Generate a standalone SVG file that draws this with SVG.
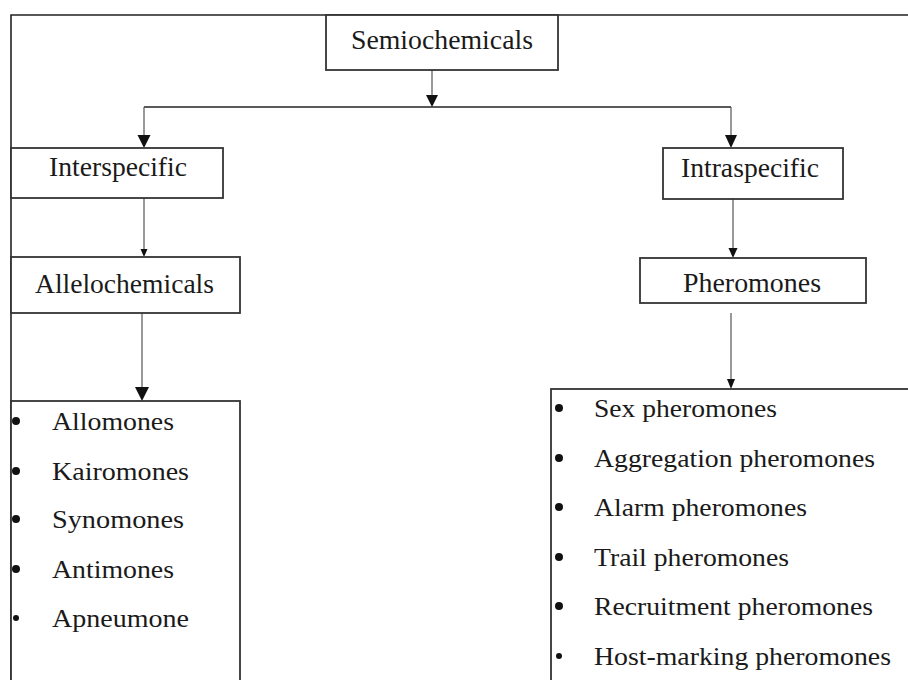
<svg xmlns="http://www.w3.org/2000/svg" width="908" height="680" viewBox="0 0 908 680">
<style>
  text { font-family: "Liberation Serif", "Times New Roman", serif; fill: #1a1a1a; }
  .h { font-size: 27px; text-anchor: middle; }
  .li { font-size: 26px; }
  .box { fill: #fff; stroke: #333; stroke-width: 1.8; }
  .frame { fill: none; stroke: #222; stroke-width: 1.6; }
  .conn { fill: none; stroke: #555; stroke-width: 1.2; }
  .bus { fill: none; stroke: #222; stroke-width: 1.6; }
  .head { fill: #111; }
  .bullet { fill: #111; }
</style>
<rect x="0" y="0" width="908" height="680" fill="#fff"/>
<g id="frame">
  <path class="frame" d="M11,680 V15 H908"/>
</g>
<g id="connectors">
  <path class="conn" d="M432,70 V96"/>
  <path class="head" d="M426,95 L438,95 L432,107 Z"/>
  <path class="bus" d="M144,107 H731"/>
  <path class="conn" d="M144,107 V136"/>
  <path class="head" d="M137.5,135 L150.5,135 L144,148 Z"/>
  <path class="conn" d="M731,107 V136"/>
  <path class="head" d="M725,135 L737,135 L731,148 Z"/>
  <path class="conn" d="M144,198 V250"/>
  <path class="head" d="M140.5,249 L147.5,249 L144,257 Z"/>
  <path class="conn" d="M733,199 V250"/>
  <path class="head" d="M728.5,248 L737.5,248 L733,258 Z"/>
  <path class="conn" d="M142,313 V388"/>
  <path class="head" d="M135,387 L149,387 L142,401 Z"/>
  <path class="conn" d="M731,313 V380"/>
  <path class="head" d="M727,379 L735,379 L731,389 Z"/>
</g>
<g id="semiochemicals">
  <rect class="box" x="326" y="15" width="232" height="55"/>
  <text class="h" x="442" y="49" textLength="182" lengthAdjust="spacingAndGlyphs">Semiochemicals</text>
</g>
<g id="interspecific">
  <rect class="box" x="11" y="148" width="212" height="50"/>
  <text class="h" x="118" y="176" textLength="138" lengthAdjust="spacingAndGlyphs">Interspecific</text>
</g>
<g id="intraspecific">
  <rect class="box" x="663" y="148" width="180" height="51"/>
  <text class="h" x="750" y="177" textLength="138" lengthAdjust="spacingAndGlyphs">Intraspecific</text>
</g>
<g id="allelochemicals">
  <rect class="box" x="11" y="257" width="229" height="56"/>
  <text class="h" x="124.5" y="293" textLength="179" lengthAdjust="spacingAndGlyphs">Allelochemicals</text>
</g>
<g id="pheromones">
  <rect class="box" x="640" y="258" width="226" height="45"/>
  <text class="h" x="752" y="292" textLength="138" lengthAdjust="spacingAndGlyphs">Pheromones</text>
</g>
<g id="allelochemicals-list">
  <rect class="box" x="11" y="401" width="229" height="290"/>
  <circle class="bullet" cx="16" cy="421" r="4"/>
  <text class="li" x="52" y="430" textLength="122" lengthAdjust="spacingAndGlyphs">Allomones</text>
  <circle class="bullet" cx="16" cy="471" r="4"/>
  <text class="li" x="52" y="480" textLength="137" lengthAdjust="spacingAndGlyphs">Kairomones</text>
  <circle class="bullet" cx="16" cy="519" r="4"/>
  <text class="li" x="52" y="528" textLength="132" lengthAdjust="spacingAndGlyphs">Synomones</text>
  <circle class="bullet" cx="16" cy="569" r="4"/>
  <text class="li" x="52" y="578" textLength="122" lengthAdjust="spacingAndGlyphs">Antimones</text>
  <circle class="bullet" cx="16" cy="618" r="3"/>
  <text class="li" x="52" y="627" textLength="137" lengthAdjust="spacingAndGlyphs">Apneumone</text>
</g>
<g id="pheromones-list">
  <rect class="box" x="551" y="389" width="370" height="302"/>
  <circle class="bullet" cx="559" cy="408" r="4"/>
  <text class="li" x="594" y="417" textLength="183" lengthAdjust="spacingAndGlyphs">Sex pheromones</text>
  <circle class="bullet" cx="559" cy="458" r="4"/>
  <text class="li" x="594" y="467" textLength="281" lengthAdjust="spacingAndGlyphs">Aggregation pheromones</text>
  <circle class="bullet" cx="559" cy="507" r="4"/>
  <text class="li" x="594" y="516" textLength="213" lengthAdjust="spacingAndGlyphs">Alarm pheromones</text>
  <circle class="bullet" cx="559" cy="557" r="4"/>
  <text class="li" x="594" y="566" textLength="195" lengthAdjust="spacingAndGlyphs">Trail pheromones</text>
  <circle class="bullet" cx="559" cy="606" r="4"/>
  <text class="li" x="594" y="615" textLength="279" lengthAdjust="spacingAndGlyphs">Recruitment pheromones</text>
  <circle class="bullet" cx="559" cy="656" r="3"/>
  <text class="li" x="594" y="665" textLength="297" lengthAdjust="spacingAndGlyphs">Host-marking pheromones</text>
</g>
</svg>
